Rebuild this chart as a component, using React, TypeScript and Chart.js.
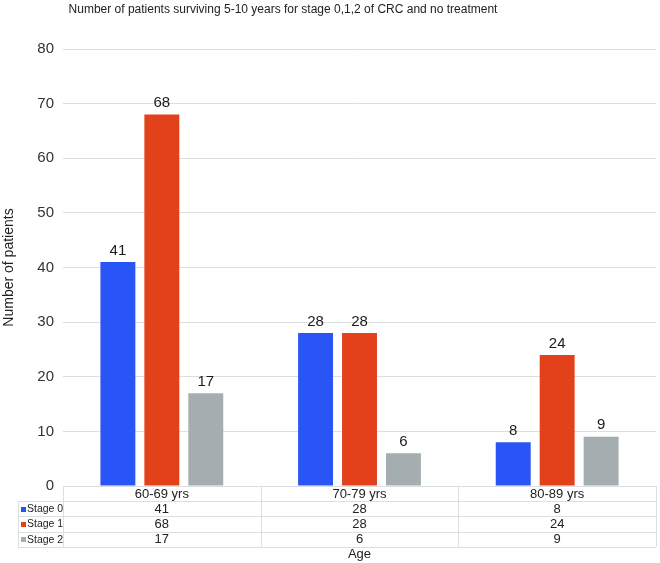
import React, { useEffect, useRef } from "react";
import { Chart, registerables } from "chart.js";

Chart.register(...registerables);

const TITLE = "Number of patients surviving 5-10 years for stage 0,1,2 of CRC and no treatment";
const Y_TITLE = "Number of patients";
const X_TITLE = "Age";
const CATEGORIES = ["60-69 yrs", "70-79 yrs", "80-89 yrs"];
const SERIES_NAMES = ["Stage 0", "Stage 1", "Stage 2"];
const STAGE0 = [41, 28, 8];
const STAGE1 = [68, 28, 24];
const STAGE2 = [17, 6, 9];
const Y_MIN = 0;
const Y_MAX = 80;
const Y_STEP = 10;

const COLORS = ["#2a55f6", "#e2411a", "#a4aeb1"];
const FONT = "'Liberation Sans', Arial, Helvetica, sans-serif";
const GRID = "#dcdfe1";

const titleShift = {
  id: "titleShift",
  afterLayout(chart: any) {
    const tb = chart.titleBlock;
    if (tb) {
      const center = 283;
      tb.left = 0;
      tb.right = center * 2;
    }
  },
};

const barLabels = {
  id: "barLabels",
  afterDatasetsDraw(chart: any) {
    const ctx = chart.ctx;
    ctx.save();
    ctx.font = `15px ${FONT}`;
    ctx.fillStyle = "#1a1a1a";
    ctx.textAlign = "center";
    ctx.textBaseline = "bottom";
    chart.data.datasets.forEach((ds: any, di: number) => {
      const meta = chart.getDatasetMeta(di);
      meta.data.forEach((el: any, i: number) => {
        ctx.fillText(String(ds.data[i]), el.x, el.y - 4);
      });
    });
    ctx.restore();
  },
};

const dataTable = {
  id: "dataTable",
  afterDraw(chart: any) {
    const ctx = chart.ctx;
    const area = chart.chartArea;
    const xs = chart.scales.x;
    const n = CATEGORIES.length;
    const rowH = 15.2;
    const top = area.bottom;
    const legendLeft = 18;
    const left = area.left;
    const right = area.right;
    const colW = (right - left) / n;
    const bottom = top + rowH * 4;
    const px = (v: number) => Math.round(v) + 0.5;

    ctx.save();
    ctx.strokeStyle = GRID;
    ctx.lineWidth = 1;
    ctx.beginPath();
    ctx.moveTo(left, px(top));
    ctx.lineTo(right, px(top));
    for (let r = 1; r <= 4; r++) {
      const y = px(top + rowH * r);
      ctx.moveTo(legendLeft, y);
      ctx.lineTo(right, y);
    }
    ctx.moveTo(px(left), top);
    ctx.lineTo(px(left), bottom);
    ctx.moveTo(px(legendLeft), top + rowH);
    ctx.lineTo(px(legendLeft), bottom);
    for (let i = 1; i <= n; i++) {
      const x = px(left + colW * i);
      ctx.moveTo(x, top);
      ctx.lineTo(x, bottom);
    }
    ctx.stroke();

    ctx.fillStyle = "#222";
    ctx.textAlign = "center";
    ctx.textBaseline = "middle";
    ctx.font = `13px ${FONT}`;
    CATEGORIES.forEach((c, i) => {
      ctx.fillText(c, xs.getPixelForValue(i), top + rowH * 0.5 + 0.5);
    });
    chart.data.datasets.forEach((ds: any, di: number) => {
      const yMid = top + rowH * (di + 1.5) + 0.5;
      ctx.font = `13px ${FONT}`;
      ctx.textAlign = "center";
      ctx.fillStyle = "#222";
      ds.data.forEach((v: number, i: number) => {
        ctx.fillText(String(v), xs.getPixelForValue(i), yMid);
      });
      ctx.fillStyle = ds.backgroundColor;
      ctx.fillRect(21, Math.round(yMid - 2.5), 5, 5);
      ctx.fillStyle = "#222";
      ctx.textAlign = "left";
      ctx.font = `10.5px ${FONT}`;
      ctx.fillText(ds.label, 27, yMid);
    });

    ctx.textAlign = "center";
    ctx.font = `13px ${FONT}`;
    ctx.fillText(X_TITLE, (left + right) / 2, 554);
    ctx.restore();
  },
};

export default function App() {
  const ref = useRef<HTMLCanvasElement | null>(null);

  useEffect(() => {
    document.body.style.margin = "0";
    const canvas = ref.current;
    if (!canvas) return;
    const chart = new Chart(canvas, {
      type: "bar",
      data: {
        labels: CATEGORIES,
        datasets: [
          { label: SERIES_NAMES[0], data: STAGE0, backgroundColor: COLORS[0] },
          { label: SERIES_NAMES[1], data: STAGE1, backgroundColor: COLORS[1] },
          { label: SERIES_NAMES[2], data: STAGE2, backgroundColor: COLORS[2] },
        ],
      },
      options: {
        responsive: false,
        animation: false,
        devicePixelRatio: 1,
        layout: { padding: { left: 1, right: 4, top: 0, bottom: 77 } },
        datasets: {
          bar: { categoryPercentage: 0.667, barPercentage: 0.795 },
        },
        plugins: {
          legend: { display: false },
          tooltip: { enabled: false },
          title: {
            display: true,
            text: TITLE,
            color: "#222",
            font: { family: FONT, size: 12, weight: "normal" },
            padding: { top: 2, bottom: 32.6 },
          },
        },
        scales: {
          x: {
            display: false,
          },
          y: {
            min: Y_MIN,
            max: Y_MAX,
            ticks: {
              stepSize: Y_STEP,
              color: "#333",
              padding: 9,
              font: { family: FONT, size: 15 },
            },
            grid: { color: GRID, drawTicks: false },
            border: { display: false },
            title: {
              display: true,
              text: Y_TITLE,
              color: "#222",
              font: { family: FONT, size: 14 },
              padding: { top: 0, bottom: 0 },
            },
            afterFit(scale: any) {
              scale.width = 62;
            },
          },
        },
      },
      plugins: [titleShift, barLabels, dataTable],
    } as any);
    return () => chart.destroy();
  }, []);

  return (
    <div style={{ width: 660, height: 563 }}>
      <canvas ref={ref} width={660} height={563} style={{ display: "block" }} />
    </div>
  );
}
